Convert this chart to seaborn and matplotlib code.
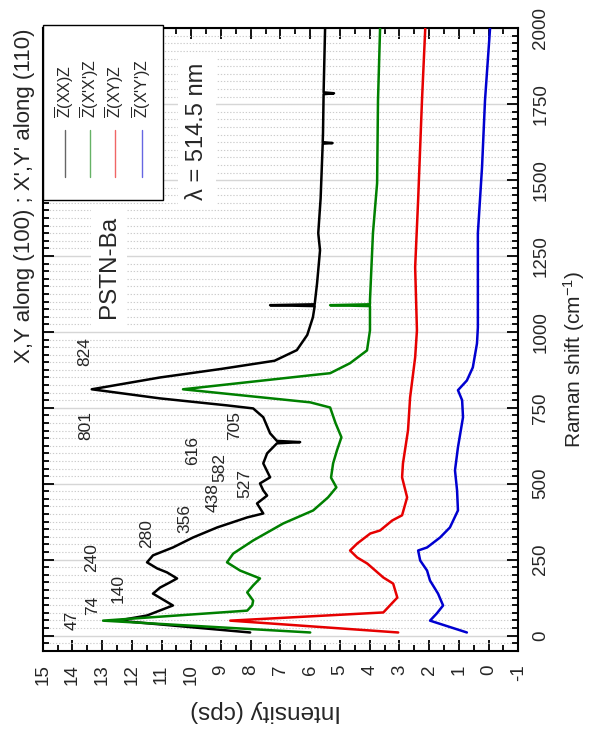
import numpy as np
import pandas as pd
import matplotlib
matplotlib.use("Agg")
import matplotlib.pyplot as plt
from matplotlib.patches import Rectangle
from matplotlib.lines import Line2D
from matplotlib.ticker import MultipleLocator
import seaborn as sns

# ---------------- data (Raman shift in cm-1, intensity in cps) ----------------
xx_shift = [10, 49, 66, 99, 138, 158, 175, 188, 208, 221, 241, 264, 290, 323, 356,
            389, 402, 435, 461, 478, 501, 521, 567, 600, 633, 637, 641, 666, 719,
            748, 758, 781, 811, 850, 878, 905, 940, 990, 1048, 1085, 1088, 1091,
            1160, 1269, 1325, 1440, 1620, 1622, 1625, 1655, 1783, 1786, 1789, 2000]
xx_int = [8.02, 12.47, 11.49, 10.62, 11.29, 11.05, 10.72, 10.48, 10.82, 11.15, 11.49,
          11.29, 10.62, 9.94, 9.13, 8.12, 7.58, 7.79, 7.45, 7.58, 7.69, 7.35, 7.58,
          7.45, 7.12, 6.34, 7.12, 7.35, 7.58, 7.92, 8.80, 11.05, 13.35, 11.05, 9.00,
          7.20, 6.45, 6.10, 5.91, 5.85, 7.35, 5.85, 5.77, 5.67, 5.73, 5.65, 5.58,
          5.25, 5.58, 5.57, 5.55, 5.20, 5.55, 5.50]

xpxp_shift = [10, 49, 82, 100, 115, 142, 165, 188, 214, 241, 270, 313, 369, 412, 455,
              488, 520, 567, 610, 653, 700, 751, 768, 811, 857, 864, 897, 939, 1005,
              1085, 1088, 1091, 1104, 1325, 1490, 1763, 2000]
xpxp_int = [6.00, 12.97, 8.12, 7.95, 7.92, 8.12, 7.92, 7.69, 8.36, 8.80, 8.59, 7.92,
            6.91, 5.90, 5.40, 5.12, 5.30, 5.23, 5.10, 4.95, 5.15, 5.33, 6.00, 10.28,
            6.00, 5.33, 4.66, 4.09, 3.99, 3.99, 5.33, 3.99, 3.99, 3.89, 3.75, 3.72,
            3.65]

xy_shift = [10, 49, 76, 125, 171, 191, 237, 257, 280, 303, 336, 346, 379, 396, 455,
            521, 567, 676, 784, 916, 1005, 1213, 1434, 1763, 2000]
xy_int = [3.04, 8.69, 3.54, 3.07, 3.21, 3.54, 4.08, 4.42, 4.66, 4.42, 3.98, 3.65,
          3.24, 2.91, 2.74, 2.91, 2.88, 2.71, 2.64, 2.47, 2.41, 2.47, 2.37, 2.24,
          2.13]

xpyp_shift = [10, 49, 73, 99, 138, 181, 214, 247, 280, 290, 323, 356, 412, 478, 544,
              620, 719, 775, 808, 840, 883, 962, 1015, 1325, 1543, 1763, 2000]
xpyp_int = [0.73, 1.97, 1.74, 1.53, 1.70, 1.97, 2.07, 2.30, 2.37, 2.07, 1.63, 1.30,
            1.03, 1.06, 1.13, 1.03, 0.86, 0.89, 1.03, 0.73, 0.53, 0.39, 0.36, 0.36,
            0.22, 0.12, -0.05]

series_shift = [xx_shift, xpxp_shift, xy_shift, xpyp_shift]
series_int = [xx_int, xpxp_int, xy_int, xpyp_int]
series_labels = [r"$\overline{\mathrm{Z}}$(XX)Z", r"$\overline{\mathrm{Z}}$(X'X')Z",
                 r"$\overline{\mathrm{Z}}$(XY)Z", r"$\overline{\mathrm{Z}}$(X'Y')Z"]
series_colors = ["#000000", "#008000", "#e60000", "#0000d0"]

peak_labels = ["47", "74", "140", "240", "280", "356", "438", "527", "582", "616",
               "705", "801", "824"]
# label anchor (intensity, shift) for each peak annotation
peak_label_pos = [(14.01, 49), (13.31, 99), (12.47, 155), (13.34, 257), (11.49, 336),
                  (10.21, 386), (9.27, 455), (8.19, 501), (9.03, 554), (9.94, 610),
                  (8.56, 692), (13.54, 692), (13.58, 936)]

# ---------------- style ----------------
sns.set_style("ticks")
plt.rcParams["font.family"] = ["Liberation Sans", "DejaVu Sans"]
plt.rcParams["mathtext.fontset"] = "custom"
plt.rcParams["mathtext.rm"] = "Liberation Sans"
plt.rcParams["mathtext.it"] = "Liberation Sans:italic"
plt.rcParams["axes.unicode_minus"] = False

W, H = 595, 731
fig = plt.figure(figsize=(W / 100, H / 100), dpi=100)


def fx(px):
    return px / W


def fy(py):
    return 1 - py / H


ax = fig.add_axes([fx(42.7), fy(650.7), fx(518.3) - fx(42.7), fy(28.3) - fy(650.7)])

for s, v, c in zip(series_shift, series_int, series_colors):
    df = pd.DataFrame({"shift": s, "intensity": v})
    sns.lineplot(data=df, x="intensity", y="shift", orient="y", sort=False,
                 estimator=None, color=c, lw=1.8, ax=ax, legend=False, zorder=3)

ax.set_xlim(15, -1)
ax.set_ylim(-50, 2000)

ax.xaxis.set_major_locator(MultipleLocator(1))
ax.xaxis.set_minor_locator(MultipleLocator(0.5))
ax.yaxis.set_major_locator(MultipleLocator(250))
ax.yaxis.set_minor_locator(MultipleLocator(25))

ax.grid(which="minor", axis="y", ls=(0, (1.2, 1.6)), color="#cccccc", lw=0.8)
ax.grid(which="major", axis="y", ls="-", color="#d6d6d6", lw=1.0)
ax.grid(which="both", axis="x", visible=False)
ax.set_axisbelow(True)

ax.tick_params(which="both", direction="in", top=True, bottom=True, left=True,
               right=True, labelleft=False, labelright=True, labelbottom=True,
               labeltop=False, width=1.3, color="black")
ax.tick_params(which="major", length=8)
ax.tick_params(which="minor", length=4)
ax.tick_params(axis="x", which="major", pad=10, labelsize=13.5, labelrotation=90)
ax.tick_params(axis="y", which="major", pad=10, labelsize=13.5, labelrotation=90)
for lab in ax.get_yticklabels():
    lab.set_va("center")
    lab.set_ha("left")

for sp in ax.spines.values():
    sp.set_linewidth(1.5)
    sp.set_color("black")

ax.set_xlabel("")
ax.set_ylabel("")
fig.text(fx(266), fy(711), "Intensity (cps)", fontsize=17.5, rotation=180,
         ha="center", va="center")
fig.text(fx(574), fy(360), "Raman shift (cm$^{-1}$)", fontsize=15, rotation=90,
         ha="center", va="center")

for lab, (xi, yr) in zip(peak_labels, peak_label_pos):
    ax.text(xi, yr, lab, rotation=90, ha="center", va="center", fontsize=12.5,
            zorder=4)

ax.text(9.81, 1661, "λ = 514.5 nm", rotation=90, ha="center", va="center",
        fontsize=17, zorder=4,
        bbox=dict(boxstyle="square,pad=0.35", fc="white", ec="none"))
ax.text(12.77, 1213, "PSTN-Ba", rotation=90, ha="center", va="center",
        fontsize=17.5, zorder=4,
        bbox=dict(boxstyle="square,pad=0.3", fc="white", ec="none"))

# title along the long edge
fig.text(fx(25), fy(196), "X,Y along (100) ; X',Y' along (110)", rotation=90,
         ha="center", va="center", fontsize=16)

# legend box drawn in figure space
box = Rectangle((fx(43), fy(200)), fx(163) - fx(43), fy(25) - fy(200),
                transform=fig.transFigure, fc="white", ec="black", lw=1.0,
                zorder=5)
fig.patches.append(box)
col_x = [65, 90, 115, 141.5]
for cx, lab, c in zip(col_x, series_labels, series_colors):
    fig.lines.append(Line2D([fx(cx), fx(cx)], [fy(177), fy(130)],
                            transform=fig.transFigure, color=c, lw=1.0,
                            alpha=0.6, zorder=6))
    fig.text(fx(cx), fy(118), lab, rotation=90, ha="center", va="bottom",
             fontsize=11.5, zorder=6)

fig.savefig("out.png", dpi=100)
